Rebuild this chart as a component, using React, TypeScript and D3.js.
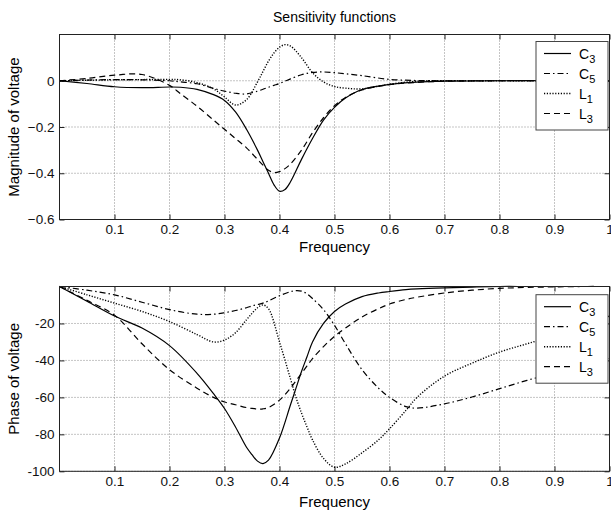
import * as d3 from 'd3';
import { useRef, useEffect } from 'react';

const freqMag = [0, 0.05, 0.1, 0.15, 0.2, 0.22, 0.25, 0.28, 0.3, 0.32, 0.34, 0.36, 0.37, 0.38, 0.39, 0.4, 0.41, 0.42, 0.44, 0.46, 0.48, 0.5, 0.52, 0.55, 0.6, 0.65, 0.7, 0.8, 0.9, 1.0];
const c3Mag = [0, -0.012, -0.026, -0.03, -0.027, -0.028, -0.037, -0.06, -0.085, -0.135, -0.21, -0.3, -0.35, -0.4, -0.45, -0.478, -0.47, -0.437, -0.34, -0.25, -0.17, -0.115, -0.075, -0.038, -0.016, -0.006, -0.002, 0, 0, 0];
const c5Mag = [0, 0.003, 0.005, 0.004, 0, -0.005, -0.013, -0.033, -0.045, -0.054, -0.057, -0.045, -0.037, -0.028, -0.02, -0.012, -0.002, 0.008, 0.026, 0.036, 0.038, 0.035, 0.03, 0.022, 0.006, 0.001, 0, 0, 0, 0];
const l1Mag = [0, 0.002, 0.004, 0.005, 0.006, 0.004, -0.008, -0.035, -0.07, -0.105, -0.082, -0.005, 0.04, 0.085, 0.12, 0.145, 0.156, 0.15, 0.1, 0.035, -0.005, -0.025, -0.032, -0.035, -0.015, -0.002, 0, 0, 0, 0];
const l3Mag = [0, 0.01, 0.024, 0.027, -0.02, -0.056, -0.11, -0.17, -0.21, -0.25, -0.29, -0.34, -0.365, -0.387, -0.397, -0.393, -0.38, -0.36, -0.3, -0.225, -0.16, -0.108, -0.072, -0.04, -0.017, -0.007, -0.002, 0, 0, 0];

const freqPhase = [0, 0.05, 0.1, 0.15, 0.2, 0.25, 0.28, 0.3, 0.32, 0.34, 0.35, 0.36, 0.37, 0.38, 0.4, 0.42, 0.43, 0.44, 0.45, 0.46, 0.48, 0.5, 0.52, 0.55, 0.58, 0.6, 0.63, 0.65, 0.7, 0.75, 0.8, 0.85, 0.9, 0.95, 1.0];
const c3Phase = [0, -8, -16, -22.5, -32, -47, -58, -66, -76, -87, -91, -94.5, -95.8, -94, -82, -64, -55, -46, -38, -30, -20, -13.5, -9.5, -5.5, -3.5, -2.7, -1.7, -1.3, -0.7, -0.3, 0, 0, 0, 0, 0];
const c5Phase = [0, -2, -4.5, -8.5, -12.5, -15, -15, -14.2, -13, -11.5, -10.5, -9.8, -9, -7.8, -5, -2.8, -2.2, -2.5, -4, -6.5, -12.5, -21, -31, -45, -55, -60, -65, -65.8, -63.5, -59.8, -55.3, -50.8, -46.8, -42.6, -39];
const l1Phase = [0, -4.5, -9, -13.5, -19, -26, -30, -29, -25, -18, -14.5, -11.5, -10, -12, -30, -50, -60, -68.5, -76, -83, -93, -97.8, -96, -90, -83, -77, -67, -60, -48.5, -41.5, -35.5, -31, -26.5, -21, -16];
const l3Phase = [0, -7.5, -15.5, -31, -45, -55, -60, -62.5, -64, -65.5, -66, -66.3, -66.2, -65.5, -61.5, -55, -51, -47, -43, -39, -32.5, -27, -22.5, -16.5, -12, -9.5, -7, -5.8, -3.5, -2, -1, -0.5, -0.2, 0, 0];

const xTicks = [0.1, 0.2, 0.3, 0.4, 0.5, 0.6, 0.7, 0.8, 0.9, 1];
const magTicks = [-0.6, -0.4, -0.2, 0];
const phaseTicks = [-100, -80, -60, -40, -20];
const legendNames = ['C', 'C', 'L', 'L'];
const legendSubs = ['3', '5', '1', '3'];
const dashes = [null, '6,3,1.5,3', '1.2,1.6', '6,4'];

const FONT = 'Arial, "Liberation Sans", Helvetica, sans-serif';

const drawPanel = (svg, opts) => {
  const { top, bottom, yDomain, yTicks, yFmt, freq, series, ylabel, xlabelY, legendTop } = opts;
  const x = d3.scaleLinear().domain([0, 1]).range([59.5, 609.5]);
  const y = d3.scaleLinear().domain(yDomain).range([bottom, top]);
  const g = svg.append('g');

  // grid
  g.selectAll('line.gx')
    .data(xTicks)
    .join('line')
    .attr('x1', (d) => x(d))
    .attr('x2', (d) => x(d))
    .attr('y1', top)
    .attr('y2', bottom)
    .attr('stroke', '#8a8a8a')
    .attr('stroke-dasharray', '1,2');
  g.selectAll('line.gy')
    .data(yTicks)
    .join('line')
    .attr('x1', x.range()[0])
    .attr('x2', x.range()[1])
    .attr('y1', (d) => y(d))
    .attr('y2', (d) => y(d))
    .attr('stroke', '#8a8a8a')
    .attr('stroke-dasharray', '1,2');

  // axes (ticks point inward)
  const styleAxis = (a) => {
    a.select('.domain').remove();
    a.selectAll('line').attr('stroke', '#222');
    a.selectAll('text').attr('fill', '#111').style('font-family', FONT).style('font-size', '13.5px');
  };
  g.append('g')
    .attr('transform', `translate(0,${bottom})`)
    .call(d3.axisBottom(x).tickValues(xTicks).tickSizeInner(-5).tickSizeOuter(0).tickPadding(5).tickFormat((d) => (d === 1 ? '1' : d3.format('.1f')(d))))
    .call(styleAxis);
  g.append('g')
    .attr('transform', `translate(0,${top})`)
    .call(d3.axisTop(x).tickValues(xTicks).tickSizeInner(-5).tickSizeOuter(0).tickFormat(() => ''))
    .call(styleAxis);
  g.append('g')
    .attr('transform', `translate(${x.range()[0]},0)`)
    .call(d3.axisLeft(y).tickValues(yTicks).tickSizeInner(-5).tickSizeOuter(0).tickPadding(5).tickFormat(yFmt))
    .call(styleAxis);
  g.append('g')
    .attr('transform', `translate(${x.range()[1]},0)`)
    .call(d3.axisRight(y).tickValues(yTicks).tickSizeInner(-5).tickSizeOuter(0).tickFormat(() => ''))
    .call(styleAxis);

  // curves
  const line = d3
    .line()
    .curve(d3.curveCatmullRom.alpha(0.5))
    .x((d) => x(d[0]))
    .y((d) => y(d[1]));
  series.forEach((vals, i) => {
    g.append('path')
      .attr('d', line(freq.map((f, j) => [f, vals[j]])))
      .attr('fill', 'none')
      .attr('stroke', '#000')
      .attr('stroke-width', i === 2 ? 1.4 : 1.2)
      .attr('stroke-dasharray', dashes[i]);
  });

  // box
  g.append('rect')
    .attr('x', x.range()[0])
    .attr('y', top)
    .attr('width', x.range()[1] - x.range()[0])
    .attr('height', bottom - top)
    .attr('fill', 'none')
    .attr('stroke', '#222');

  // labels
  g.append('text')
    .attr('x', 334.5)
    .attr('y', xlabelY)
    .attr('text-anchor', 'middle')
    .style('font-family', FONT)
    .style('font-size', '15px')
    .text('Frequency');
  g.append('text')
    .attr('transform', `translate(19,${(top + bottom) / 2}) rotate(-90)`)
    .attr('text-anchor', 'middle')
    .style('font-family', FONT)
    .style('font-size', '15px')
    .text(ylabel);

  // legend
  const lg = g.append('g').attr('transform', `translate(536,${legendTop})`);
  lg.append('rect').attr('width', 72).attr('height', 88.5).attr('fill', '#fff').attr('stroke', '#444');
  legendNames.forEach((name, i) => {
    const ly = 12 + i * 20;
    lg.append('line')
      .attr('x1', 8)
      .attr('x2', 35)
      .attr('y1', ly)
      .attr('y2', ly)
      .attr('stroke', '#000')
      .attr('stroke-width', i === 2 ? 1.4 : 1.2)
      .attr('stroke-dasharray', dashes[i]);
    const t = lg
      .append('text')
      .attr('x', 43)
      .attr('y', ly + 5)
      .style('font-family', FONT)
      .style('font-size', '14px');
    t.append('tspan').text(name);
    t.append('tspan').attr('dy', 4).style('font-size', '11px').text(legendSubs[i]);
  });
};

const App = () => {
  const svgRef = useRef();

  useEffect(() => {
    const svg = d3.select(svgRef.current);
    svg.selectAll('*').remove();
    svg.append('rect').attr('width', 611).attr('height', 512).attr('fill', '#fff');
    svg
      .append('text')
      .attr('x', 334.5)
      .attr('y', 22)
      .attr('text-anchor', 'middle')
      .style('font-family', FONT)
      .style('font-size', '14px')
      .text('Sensitivity functions');

    drawPanel(svg, {
      top: 34.5,
      bottom: 219.5,
      yDomain: [-0.6, 0.2],
      yTicks: magTicks,
      yFmt: (d) => (d === 0 ? '0' : d3.format('.1f')(d)),
      freq: freqMag,
      series: [c3Mag, c5Mag, l1Mag, l3Mag],
      ylabel: 'Magnitude of voltage',
      xlabelY: 252,
      legendTop: 41.5,
    });
    drawPanel(svg, {
      top: 286.5,
      bottom: 471.3,
      yDomain: [-100, 0],
      yTicks: phaseTicks,
      yFmt: (d) => String(d),
      freq: freqPhase,
      series: [c3Phase, c5Phase, l1Phase, l3Phase],
      ylabel: 'Phase of voltage',
      xlabelY: 507,
      legendTop: 294.7,
    });
  }, []);

  return (
    <div style={{ position: 'absolute', left: 0, top: 0 }}>
      <svg ref={svgRef} width={611} height={512} style={{ display: 'block' }} />
    </div>
  );
};

export default App;
